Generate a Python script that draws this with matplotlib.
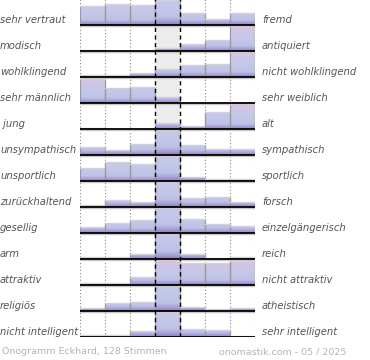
import numpy as np
import matplotlib.pyplot as plt
from matplotlib.colors import LinearSegmentedColormap

left_labels = ["sehr vertraut", "modisch", "wohlklingend", "sehr männlich", " jung",
               "unsympathisch", "unsportlich", "zurückhaltend", "gesellig", "arm",
               "attraktiv", "religiös", "nicht intelligent"]
right_labels = ["fremd", "antiquiert", "nicht wohlklingend", "sehr weiblich", "alt",
                "sympathisch", "sportlich", "forsch", "einzelgängerisch", "reich",
                "nicht attraktiv", "atheistisch", "sehr intelligent"]

# bar heights (row is ~25 high, bigger values get clipped)
votes = [
    [19, 21, 20, 40, 12, 6, 12],
    [1, 0, 0, 3, 7, 11, 25],
    [2, 2, 4, 8, 12, 13, 25],
    [24, 15, 16, 6, 0, 0, 0],
    [1, 0, 0, 6, 3, 17, 25],
    [8, 5, 11, 40, 10, 6, 6],
    [13, 19, 17, 40, 4, 2, 2],
    [2, 7, 5, 40, 9, 10, 5],
    [6, 10, 13, 40, 14, 9, 7],
    [2, 2, 5, 40, 5, 1, 2],
    [2, 2, 8, 25, 22, 22, 24],
    [3, 8, 9, 40, 4, 2, 3],
    [2, 2, 6, 40, 8, 7, 1],
]
footer_left = "Onogramm Eckhard, 128 Stimmen"
footer_right = "onomastik.com - 05 / 2025"

ROW = 26.0   # pixels per row
FULL = 25.5  # clip height
n_rows = len(votes)
n_cols = len(votes[0])

cmap = LinearSegmentedColormap.from_list("ono", [
    (0.0, "#8c7ec2"), (0.08, "#a49ed6"), (0.2, "#bec2e6"),
    (0.5, "#c4c9e9"), (0.75, "#cdc6e8"), (1.0, "#dec2e2")])

fig = plt.figure(figsize=(3.7, 3.6), dpi=100)
ax = fig.add_axes([80 / 370, 23 / 360, 175 / 370, 338 / 360])
ax.set_axis_off()

# neutral column background
ax.axvspan(3, 4, color="#ececec", zorder=0, lw=0)
for x in [0, 1, 2, 5, 6, 7]:
    ax.axvline(x, color="#888888", lw=0.8, ls=(0, (1, 2)), zorder=1)

for r, row in enumerate(votes):
    base = n_rows - 1 - r
    for c, v in enumerate(row):
        if v <= 0:
            continue
        h = min(v, FULL) / ROW
        grad = np.linspace(0, min(v, FULL) / max(v, 25), 40).reshape(-1, 1)
        ax.imshow(grad, extent=[c, c + 1, base, base + h], origin="lower",
                  aspect="auto", cmap=cmap, vmin=0, vmax=1, zorder=2,
                  interpolation="bilinear")
        ax.plot([c + 1, c + 1], [base, base + h], color="#9a9a9a", lw=0.9, zorder=3)
        ax.plot([c, c], [base, base + h], color="#9a9a9a", lw=0.9, zorder=3)
        ax.plot([c, c + 1], [base + h, base + h], color="#d2d2d2", lw=1.0, zorder=3)
    ax.plot([0, n_cols], [base - 0.04, base - 0.04], color="#c8c8c8", lw=1.0, zorder=4)
    ax.plot([0, n_cols], [base, base], color="black", lw=1.3, zorder=5)
    ax.text(-80 / 25, base + 5 / ROW, left_labels[r], ha="left", va="center",
            fontsize=7.2, style="italic", color="#555555", clip_on=False)
    ax.text(n_cols + 7 / 25, base + 5 / ROW, right_labels[r], ha="left", va="center",
            fontsize=7.2, style="italic", color="#555555", clip_on=False)

for x in [3, 4]:
    ax.axvline(x, color="black", lw=1.0, ls=(0, (3, 2.5)), zorder=6)

ax.set_xlim(0, n_cols)
ax.set_ylim(0, n_rows)

fig.text(2 / 370, 1 - 352 / 360, footer_left, ha="left", va="center",
         fontsize=6.8, color="#b4b4b4")
fig.text(346 / 370, 1 - 352 / 360, footer_right, ha="right", va="center",
         fontsize=6.8, color="#b4b4b4")

fig.savefig("out.png", dpi=100)
